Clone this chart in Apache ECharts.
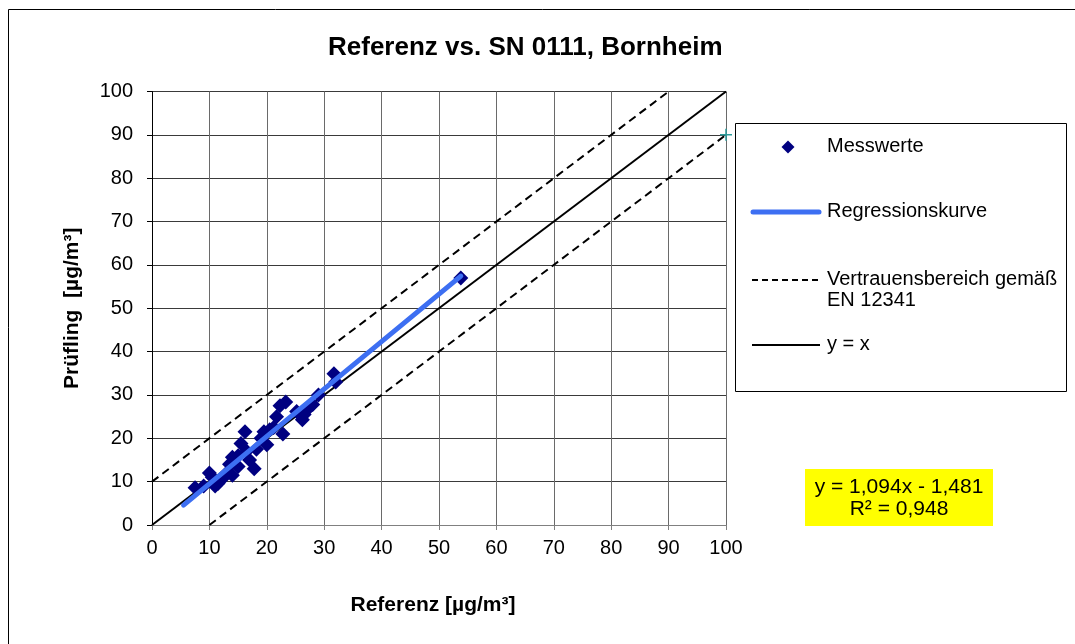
<!DOCTYPE html>
<html>
<head>
<meta charset="utf-8">
<script src="https://cdn.jsdelivr.net/npm/echarts@6/dist/echarts.min.js"></script>
<style>
html,body{margin:0;padding:0;background:#fff;}
#chart{width:1075px;height:644px;}
</style>
</head>
<body>
<div id="chart"></div>
<script>
// Measured values (Referenz x, Prüfling y)
const messwerte = [
  [7.5, 8.6], [9, 9], [10, 12], [10.5, 11], [11, 9], [11.5, 9.6], [12, 10.5],
  [12.5, 11], [13, 12], [13.5, 14], [14, 15.6], [14, 11.5], [15, 16],
  [15.5, 18.8], [15, 13.5], [16.2, 21.5], [16.5, 17], [17, 15], [17.8, 13],
  [18.2, 17.5], [19, 20], [19.5, 21.5], [20, 18.5], [20.5, 22], [21.2, 22.5],
  [21.7, 25], [22.3, 27.5], [22.8, 21], [23.3, 28.4], [25.2, 26.2], [26.2, 24.3],
  [26.5, 25.5], [27, 26.6], [28, 27.8], [29, 30], [31.7, 34.9], [32, 33],
  [53.8, 57]
];
const regression = [[5.5, 4.6], [53.8, 57.4]];
const upperBound = [[0, 10], [90, 100]];
const lowerBound = [[10, 0], [100, 90]];
const identity = [[0, 0], [100, 100]];
const extraPoint = [[100, 90]];
const xTicks = { min: 0, max: 100, interval: 10 };
const yTicks = { min: 0, max: 100, interval: 10 };
const titleText = 'Referenz vs. SN 0111, Bornheim';
const xName = 'Referenz [µg/m³]';
const yName = 'Prüfling  [µg/m³]';
const equationLines = ['y = 1,094x - 1,481', 'R² = 0,948'];
const legendNames = ['Messwerte', 'Regressionskurve', 'Vertrauensbereich gemäß\nEN 12341', 'y = x'];

const FONT = '"Liberation Sans", Arial, sans-serif';
const chart = echarts.init(document.getElementById('chart'), null, { renderer: 'canvas' });

const option = {
  backgroundColor: '#fff',
  animation: false,
  title: {
    text: titleText,
    left: 323,
    top: 30,
    textStyle: { fontFamily: FONT, fontSize: 26, fontWeight: 'bold', color: '#000' }
  },
  grid: { left: 152, right: 349, top: 91.5, bottom: 119, containLabel: false },
  xAxis: {
    type: 'value', min: xTicks.min, max: xTicks.max, interval: xTicks.interval,
    name: xName, nameLocation: 'middle', nameGap: 70,
    nameTextStyle: { fontFamily: FONT, fontSize: 21, fontWeight: 'bold', color: '#000', padding: [0, 12, 0, 0] },
    axisLine: { show: true, onZero: false, lineStyle: { color: '#808080', width: 1 } },
    axisTick: { show: true, inside: false, length: 5, lineStyle: { color: '#808080' } },
    axisLabel: { fontFamily: FONT, fontSize: 20, color: '#000', margin: 13 },
    splitLine: { show: true, lineStyle: { color: '#6a6a6a', width: 1 } }
  },
  yAxis: {
    type: 'value', min: yTicks.min, max: yTicks.max, interval: yTicks.interval,
    name: yName, nameLocation: 'middle', nameGap: 69,
    nameTextStyle: { fontFamily: FONT, fontSize: 21, fontWeight: 'bold', color: '#000' },
    axisLine: { show: true, onZero: false, lineStyle: { color: '#000', width: 1 } },
    axisTick: { show: true, inside: false, length: 5, lineStyle: { color: '#000' } },
    axisLabel: { fontFamily: FONT, fontSize: 20, color: '#000', margin: 19 },
    splitLine: { show: true, lineStyle: { color: '#3a3a3a', width: 1 } }
  },
  series: [
    {
      name: legendNames[2], type: 'line', data: upperBound, showSymbol: false, symbol: 'none',
      lineStyle: { color: '#000', width: 2, type: [8, 5] }, z: 3, silent: true
    },
    {
      name: legendNames[2] + '_2', type: 'line', data: lowerBound, showSymbol: false, symbol: 'none',
      lineStyle: { color: '#000', width: 2, type: [8, 5] }, z: 3, silent: true
    },
    {
      name: legendNames[3], type: 'line', data: identity, showSymbol: false, symbol: 'none',
      lineStyle: { color: '#000', width: 2 }, z: 3, silent: true
    },
    {
      name: legendNames[0], type: 'scatter', data: messwerte, symbol: 'diamond', symbolSize: 15,
      itemStyle: { color: '#000080', opacity: 1 }, z: 4
    },
    {
      name: legendNames[1], type: 'line', data: regression, showSymbol: false, symbol: 'none',
      lineStyle: { color: '#3d6ff2', width: 5, cap: 'round' }, z: 5, silent: true
    },
    {
      name: 'extra', type: 'scatter', data: extraPoint,
      symbol: 'path://M0,6L12,6M6,0L6,12', symbolSize: 12,
      itemStyle: { color: 'rgba(0,0,0,0)', borderColor: '#2b9c9c', borderWidth: 1.5, opacity: 1 }, z: 6
    }
  ],
  graphic: [
    { type: 'rect', shape: { x: 8.5, y: 9.5, width: 1200, height: 800 }, style: { fill: 'none', stroke: '#000', lineWidth: 1 }, silent: true, z: -10 },
    // legend box
    { type: 'rect', shape: { x: 735.5, y: 123.5, width: 331, height: 268 }, style: { fill: '#fff', stroke: '#000', lineWidth: 1 }, z: 10 },
    { type: 'polygon', shape: { points: [[788, 140.5], [794.5, 147], [788, 153.5], [781.5, 147]] }, style: { fill: '#000080' }, z: 11 },
    { type: 'text', left: 827, top: 136, style: { text: legendNames[0], font: '20px ' + FONT, fill: '#000' }, z: 11 },
    { type: 'line', shape: { x1: 753, y1: 212, x2: 819, y2: 212 }, style: { stroke: '#3d6ff2', lineWidth: 5, lineCap: 'round' }, z: 11 },
    { type: 'text', left: 827, top: 201, style: { text: legendNames[1], font: '20px ' + FONT, fill: '#000' }, z: 11 },
    { type: 'line', shape: { x1: 752, y1: 280, x2: 820, y2: 280 }, style: { stroke: '#000', lineWidth: 2, lineDash: [6, 4] }, z: 11 },
    { type: 'text', left: 827, top: 269, style: { text: legendNames[2], font: '20px ' + FONT, fill: '#000', lineHeight: 21 }, z: 11 },
    { type: 'line', shape: { x1: 752, y1: 345, x2: 820, y2: 345 }, style: { stroke: '#000', lineWidth: 2 }, z: 11 },
    { type: 'text', left: 827, top: 334, style: { text: legendNames[3], font: '20px ' + FONT, fill: '#000' }, z: 11 },
    // equation box
    { type: 'rect', shape: { x: 805, y: 469, width: 188, height: 57 }, style: { fill: '#ffff00' }, z: 10 },
    { type: 'text', x: 899, y: 476, style: { text: equationLines.join('\n'), font: '21px ' + FONT, fill: '#000', align: 'center', lineHeight: 22 }, z: 11 }
  ]
};
chart.setOption(option);
</script>
</body>
</html>
